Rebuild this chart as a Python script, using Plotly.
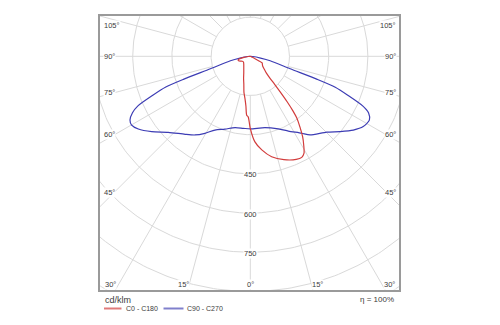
import numpy as np
import plotly.graph_objects as go

# ---------------- data: luminous intensity (cd/klm) vs gamma (deg from nadir) ----------------
c0_gamma = [0, 3, 7, 12, 18, 24, 27, 29, 31, 33, 35, 37, 38, 39, 40, 41, 42, 44, 47, 52, 57, 61, 63, 66, 75, 90]
c0_values = [276, 327, 361, 393, 416, 432, 434, 424, 397, 368, 332, 295, 265, 225, 180, 142, 112, 88, 74, 60, 55, 52, 22, 6, 2, 0]

c180_gamma = [0, 1, 2, 3.5, 5, 7, 10, 13, 17, 21, 25, 30, 40, 50, 58, 65, 72, 76, 80, 85, 90]
c180_values = [276, 250, 232, 226, 192, 165, 140, 110, 88, 70, 59, 50, 39, 34, 36, 43, 49, 44, 25, 8, 0]

c90_gamma = [0, 11.6, 21.1, 27, 33.7, 37.2, 45.2, 50, 54.4, 58.1, 61.8, 64.4,
             66.2, 68.3, 70, 71, 72.6, 77.3, 80, 85, 90]
c90_values = [278, 279, 298, 321, 354, 378, 412, 448, 485, 509, 517, 502,
              470, 400, 346, 271, 160, 78, 40, 10, 0]

c270_gamma = [0, 5.6, 12.1, 19.2, 25.6, 30.5, 35.1, 39.9, 47.2, 52.6, 57, 59.9, 62.1, 64.4,
              66.2, 68.3, 70, 71, 72.6, 77.3, 80, 85, 90]
c270_values = [278, 277, 279, 295, 313, 342, 368, 389, 428, 475, 511, 525, 521, 500,
               470, 400, 346, 271, 160, 78, 40, 10, 0]

side_angle_labels = [45, 60, 75, 90, 105]
bottom_angle_labels = [-30, -15, 0, 15, 30]
radial_labels = [450, 600, 750]
grid_step = 150
unit_label = "cd/klm"
efficiency_label = "η = 100%"
series_names = ["C0 - C180", "C90 - C270"]

# ---------------- geometry ----------------
W, H = 500, 325
BOX_L, BOX_R, BOX_T, BOX_B = 100, 399, 16, 290
CX, CY = 250.3, 56.3          # pixel position of the pole
K = 0.2613                    # pixels per cd/klm

def dx(px):
    return (px - CX) / K

def dy(py):
    return (CY - py) / K

def to_xy(gammas, values, side):
    g = np.radians(np.asarray(gammas, float))
    v = np.asarray(values, float)
    return side * v * np.sin(g), -v * np.cos(g)

def paper_x(px):
    return (px - BOX_L) / (BOX_R - BOX_L)

def paper_y(py):
    return (BOX_B - py) / (BOX_B - BOX_T)

GRID = "#d9d9d9"
TXT = "#3c3c3c"
RED = "#d23c3c"
BLUE = "#3c3cb4"
FONT = "Liberation Sans"

fig = go.Figure()

# grid circles
t = np.linspace(0, 2 * np.pi, 361)
cx_, cy_ = [], []
for r in range(grid_step, 1400, grid_step):
    cx_ += list(r * np.cos(t)) + [None]
    cy_ += list(r * np.sin(t)) + [None]
fig.add_trace(go.Scatter(x=cx_, y=cy_, mode="lines", line=dict(color=GRID, width=1),
                         hoverinfo="skip", showlegend=False))
# grid rays
rx, ry = [], []
for a in range(0, 360, 15):
    ar = np.radians(a)
    rx += [grid_step * np.sin(ar), 1500 * np.sin(ar), None]
    ry += [-grid_step * np.cos(ar), -1500 * np.cos(ar), None]
fig.add_trace(go.Scatter(x=rx, y=ry, mode="lines", line=dict(color=GRID, width=1),
                         hoverinfo="skip", showlegend=False))

# curves
bx1, by1 = to_xy(c270_gamma[::-1], c270_values[::-1], -1)
bx2, by2 = to_xy(c90_gamma[1:], c90_values[1:], 1)
fig.add_trace(go.Scatter(x=np.concatenate([bx1, bx2]), y=np.concatenate([by1, by2]),
                         mode="lines", line=dict(color=BLUE, width=1.2, shape="spline", smoothing=0.7),
                         hoverinfo="skip", showlegend=False))
rx1, ry1 = to_xy(c180_gamma[::-1], c180_values[::-1], -1)
rx2, ry2 = to_xy(c0_gamma[1:], c0_values[1:], 1)
fig.add_trace(go.Scatter(x=np.concatenate([rx1, rx2]), y=np.concatenate([ry1, ry2]),
                         mode="lines", line=dict(color=RED, width=1.2, shape="spline", smoothing=0.7),
                         hoverinfo="skip", showlegend=False))

ann = []
# side angle labels
d_lab = 135.8 / K
y_top_lim = dy(25)
for a in side_angle_labels:
    yv = -d_lab / np.tan(np.radians(a)) if a != 90 else 0.0
    yv = min(yv, y_top_lim)
    ann.append(dict(x=dx(102.5), y=yv, text=f"{a}°", xanchor="left", yanchor="middle",
                    showarrow=False, bgcolor="white", borderpad=0,
                    font=dict(family=FONT, size=7.5, color=TXT)))
    ann.append(dict(x=dx(397), y=yv, text=f"{a}°", xanchor="right", yanchor="middle",
                    showarrow=False, bgcolor="white", borderpad=0,
                    font=dict(family=FONT, size=7.5, color=TXT)))
# bottom angle labels
ybot = dy(BOX_B)
for a in bottom_angle_labels:
    xh = -ybot * np.tan(np.radians(abs(a))) + (4.5 / K if a != 0 else 0)
    xh *= np.sign(a) if a != 0 else 0
    ann.append(dict(x=xh, y=dy(284), text=f"{abs(a)}°", xanchor="center", yanchor="middle",
                    showarrow=False, bgcolor="white", borderpad=0,
                    font=dict(family=FONT, size=7.5, color=TXT)))
# radial labels
for r in radial_labels:
    ann.append(dict(x=0, y=-r - 1 / K, text=str(r), xanchor="center", yanchor="middle",
                    showarrow=False, bgcolor="white", borderpad=0,
                    font=dict(family=FONT, size=7.5, color=TXT)))

# legend / footer
ann.append(dict(xref="paper", yref="paper", x=paper_x(102.5), y=paper_y(300), text=unit_label,
                xanchor="left", yanchor="middle", showarrow=False,
                font=dict(family=FONT, size=9, color=TXT)))
ann.append(dict(xref="paper", yref="paper", x=paper_x(123.5), y=paper_y(308.5), text=series_names[0],
                xanchor="left", yanchor="middle", showarrow=False,
                font=dict(family=FONT, size=7, color=TXT)))
ann.append(dict(xref="paper", yref="paper", x=paper_x(185), y=paper_y(308.5), text=series_names[1],
                xanchor="left", yanchor="middle", showarrow=False,
                font=dict(family=FONT, size=7, color=TXT)))
ann.append(dict(xref="paper", yref="paper", x=paper_x(396), y=paper_y(299), text=efficiency_label,
                xanchor="right", yanchor="middle", showarrow=False,
                font=dict(family=FONT, size=8, color=TXT)))

shapes = [
    dict(type="line", xref="paper", yref="paper", x0=paper_x(104), x1=paper_x(121.5),
         y0=paper_y(308.5), y1=paper_y(308.5), line=dict(color="#e07a7a", width=2)),
    dict(type="line", xref="paper", yref="paper", x0=paper_x(163.5), x1=paper_x(183.5),
         y0=paper_y(308.5), y1=paper_y(308.5), line=dict(color="#8080cc", width=2)),
]

ax = dict(showgrid=False, zeroline=False, showticklabels=False, ticks="",
          showline=True, mirror=True, linecolor="#9a9a9a", linewidth=1.5, fixedrange=True)
fig.update_layout(
    width=W, height=H, autosize=False,
    margin=dict(l=BOX_L, r=W - BOX_R, t=BOX_T, b=H - BOX_B, pad=0),
    paper_bgcolor="white", plot_bgcolor="white",
    xaxis=dict(range=[dx(BOX_L), dx(BOX_R)], **ax),
    yaxis=dict(range=[dy(BOX_B), dy(BOX_T)], **ax),
    annotations=ann, shapes=shapes, showlegend=False,
)
fig.write_html("out.html")
